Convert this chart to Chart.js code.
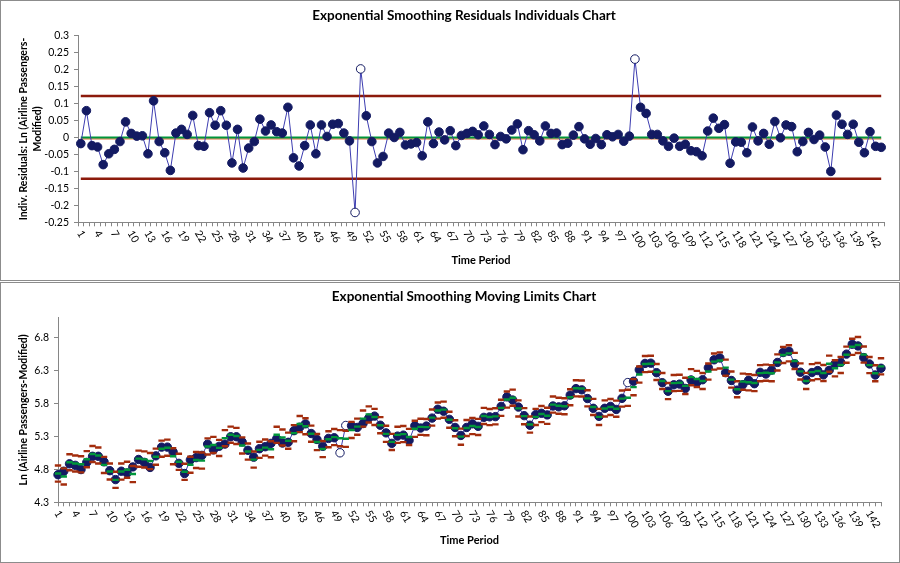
<!DOCTYPE html>
<html>
<head>
<meta charset="utf-8">
<script src="https://cdn.jsdelivr.net/npm/chart.js@4.4.1/dist/chart.umd.min.js"></script>
<style>
html, body { margin: 0; padding: 0; background: #ffffff; }
.frame { position: absolute; left: 0; width: 900px; height: 281px; box-sizing: border-box; border: 1px solid #8c8c8c; background: #ffffff; }
#f1 { top: 0; }
#f2 { top: 282px; }
canvas { display: block; }
</style>
</head>
<body>
<div class="frame" id="f1"><canvas id="c1" width="898" height="279" style="width:898px;height:279px"></canvas></div>
<div class="frame" id="f2"><canvas id="c2" width="898" height="279" style="width:898px;height:279px"></canvas></div>
<script>
// ---------------- DATA ----------------
// Residuals of the exponential smoothing model (top chart), periods 1..144
const residuals = [
  -0.018, 0.079, -0.024, -0.028, -0.080, -0.048, -0.035, -0.012, 0.046, 0.012, 0.004, 0.005,
  -0.048, 0.108, -0.012, -0.045, -0.097, 0.013, 0.024, 0.009, 0.065, -0.024, -0.026, 0.073,
  0.036, 0.079, 0.036, -0.075, 0.024, -0.090, -0.031, -0.012, 0.054, 0.019, 0.037, 0.017,
  0.013, 0.089, -0.060, -0.084, -0.024, 0.037, -0.048, 0.037, 0.003, 0.039, 0.041, 0.013,
  -0.010, -0.221, 0.202, 0.064, -0.012, -0.075, -0.056, 0.013, 0.000, 0.015, -0.022, -0.019,
  -0.015, -0.054, 0.046, -0.018, 0.016, -0.007, 0.020, -0.024, 0.006, 0.012, 0.018, 0.008,
  0.034, 0.009, -0.021, 0.003, -0.004, 0.022, 0.040, -0.036, 0.020, 0.008, -0.010, 0.034,
  0.012, 0.013, -0.021, -0.017, 0.007, 0.032, -0.004, -0.020, -0.003, -0.021, 0.008, 0.002,
  0.009, -0.011, 0.004, 0.231, 0.089, 0.071, 0.009, 0.009, -0.010, -0.026, -0.002, -0.026,
  -0.020, -0.039, -0.042, -0.054, 0.019, 0.057, 0.027, 0.038, -0.076, -0.013, -0.014, -0.045,
  0.031, -0.010, 0.012, -0.020, 0.047, -0.001, 0.037, 0.032, -0.042, -0.012, 0.015, -0.006,
  0.007, -0.028, -0.100, 0.066, 0.039, 0.009, 0.039, -0.014, -0.045, 0.017, -0.026, -0.029
];

// Ln (Airline Passengers-Modified) (bottom chart), periods 1..144
const lnValues = [
  4.718, 4.771, 4.883, 4.860, 4.796, 4.905, 4.997, 4.997, 4.913, 4.779, 4.644, 4.771,
  4.745, 4.836, 4.949, 4.905, 4.828, 5.004, 5.136, 5.136, 5.063, 4.890, 4.736, 4.942,
  4.977, 5.011, 5.182, 5.094, 5.148, 5.182, 5.293, 5.293, 5.215, 5.088, 4.984, 5.112,
  5.142, 5.193, 5.263, 5.198, 5.209, 5.385, 5.438, 5.489, 5.342, 5.252, 5.148, 5.268,
  5.278, 5.050, 5.464, 5.460, 5.434, 5.493, 5.576, 5.606, 5.468, 5.352, 5.193, 5.303,
  5.318, 5.236, 5.460, 5.425, 5.455, 5.576, 5.710, 5.680, 5.557, 5.434, 5.313, 5.434,
  5.489, 5.451, 5.587, 5.595, 5.598, 5.753, 5.897, 5.849, 5.743, 5.613, 5.468, 5.628,
  5.649, 5.624, 5.759, 5.746, 5.762, 5.924, 6.023, 6.004, 5.872, 5.724, 5.602, 5.724,
  5.753, 5.707, 5.875, 6.114, 6.134, 6.307, 6.404, 6.408, 6.264, 6.112, 5.983, 6.080,
  6.091, 6.025, 6.154, 6.115, 6.157, 6.338, 6.459, 6.487, 6.264, 6.146, 5.999, 6.083,
  6.149, 6.097, 6.269, 6.244, 6.303, 6.419, 6.569, 6.589, 6.400, 6.271, 6.154, 6.266,
  6.296, 6.231, 6.300, 6.396, 6.419, 6.545, 6.695, 6.669, 6.493, 6.396, 6.229, 6.331
];

// Control limits of the residuals chart
const upperLimit = 0.122;
const lowerLimit = -0.122;
const centerLine = 0;
const residualMean = -0.004;

// Axis tick labels
const residualTicks = [-0.25, -0.2, -0.15, -0.1, -0.05, 0, 0.05, 0.1, 0.15, 0.2, 0.25, 0.3];
const lnTicks = [4.3, 4.8, 5.3, 5.8, 6.3, 6.8];
const labelEvery = 3;

// Titles
const topTitle = 'Exponential Smoothing Residuals Individuals Chart';
const bottomTitle = 'Exponential Smoothing Moving Limits Chart';
const topYTitle = ['Indiv. Residuals: Ln (Airline Passengers-', 'Modified)'];
const bottomYTitle = 'Ln (Airline Passengers-Modified)';
const xTitle = 'Time Period';

// ---------------- DERIVED ----------------
const periods = residuals.map((_, i) => String(i + 1));
const forecast = lnValues.map((v, i) => v - residuals[i]);           // smoothed forecast = actual - residual
const movingUpper = forecast.map(f => f + upperLimit);
const movingLower = forecast.map(f => f + lowerLimit);
const constLine = v => residuals.map(() => v);
const isOut = i => residuals[i] > upperLimit || residuals[i] < lowerLimit;

// ---------------- STYLE ----------------
const FONT = 'Lato, "Open Sans", sans-serif';
const NAVY = '#131a62';
const LINE = '#3c3cb0';
const GREEN = '#00953b';
const DARKRED = '#8c1a0b';
const DASHRED = '#a32c0c';
const AXIS = '#868686';

Chart.defaults.font.family = FONT;
Chart.defaults.color = '#000';

const titlePlugin = {
  id: 'titleText',
  afterDraw(chart, args, opts) {
    const ctx = chart.ctx;
    ctx.save();
    ctx.font = 'bold 13.5px ' + FONT;
    ctx.fillStyle = '#000';
    ctx.textAlign = 'center';
    ctx.textBaseline = 'middle';
    ctx.fillText(opts.text, opts.x, opts.y);
    ctx.restore();
  }
};

const slantPlugin = {
  id: 'slantLabels',
  afterDraw(chart, args, opts) {
    const s = chart.scales.x;
    const ctx = chart.ctx;
    ctx.save();
    ctx.font = '10.5px ' + FONT;
    ctx.fillStyle = '#000';
    ctx.textAlign = 'left';
    ctx.textBaseline = 'middle';
    s.ticks.forEach((t, i) => {
      if (i % labelEvery !== 0) return;
      const x = s.getPixelForTick(i);
      ctx.save();
      ctx.translate(x - 1, s.top + opts.offset);
      ctx.rotate(opts.angle * Math.PI / 180);
      ctx.fillText(s.getLabelForValue(t.value), 0, 0);
      ctx.restore();
    });
    ctx.restore();
  }
};

function fmt(v, d) { return String(parseFloat(Number(v).toFixed(d))); }

// ---------------- TOP CHART ----------------
new Chart(document.getElementById('c1'), {
  type: 'line',
  data: {
    labels: periods,
    datasets: [
      {
        label: 'Residuals',
        data: residuals,
        borderColor: LINE,
        borderWidth: 1,
        pointRadius: 4.3,
        pointBorderWidth: 1,
        pointBorderColor: NAVY,
        pointBackgroundColor: c => isOut(c.dataIndex) ? '#ffffff' : NAVY,
        tension: 0,
        order: 1
      },
      { label: 'CL', data: constLine(centerLine), borderColor: GREEN, borderWidth: 2, pointRadius: 0, order: 2 },
      { label: 'Mean', data: constLine(residualMean), borderColor: '#e0703a', borderWidth: 1.2, pointRadius: 0, order: 3 },
      { label: 'UCL', data: constLine(upperLimit), borderColor: DARKRED, borderWidth: 2.5, pointRadius: 0, order: 4 },
      { label: 'LCL', data: constLine(lowerLimit), borderColor: DARKRED, borderWidth: 2.5, pointRadius: 0, order: 5 }
    ]
  },
  plugins: [titlePlugin, slantPlugin],
  options: {
    responsive: false,
    animation: false,
    events: [],
    layout: { padding: { top: 34.7, right: 15, bottom: 0, left: 0 } },
    plugins: {
      legend: { display: false },
      tooltip: { enabled: false },
      titleText: { text: topTitle, x: 463, y: 15 },
      slantLabels: { offset: 9, angle: 60 }
    },
    scales: {
      x: {
        type: 'category',
        offset: true,
        grid: { display: true, offset: true, drawOnChartArea: false, drawTicks: true, tickLength: 4, color: AXIS },
        border: { display: true, color: AXIS, width: 1 },
        ticks: { display: false, autoSkip: false },
        title: { display: true, text: xTitle, color: '#000', font: { size: 11, weight: 'bold', lineHeight: 1.2 }, padding: { top: 0, bottom: 12.5 } },
        afterFit: s => { s.height = 57.7; }
      },
      y: {
        min: -0.25,
        max: 0.3,
        afterBuildTicks: s => { s.ticks = residualTicks.map(v => ({ value: v })); },
        grid: { display: true, drawOnChartArea: false, drawTicks: true, tickLength: 4, color: AXIS },
        border: { display: true, color: AXIS, width: 1 },
        ticks: { callback: v => fmt(v, 2), font: { size: 10.5 }, color: '#000', padding: 5 },
        title: { display: true, text: topYTitle, color: '#000', font: { size: 10.5, weight: 'bold', lineHeight: 1.35 }, padding: { top: 15.2, bottom: 0 } },
        afterFit: s => { s.width = 77; }
      }
    }
  }
});

// ---------------- BOTTOM CHART ----------------
function dashSet(label, data, color) {
  return {
    label, data, showLine: false,
    pointStyle: 'line', pointRadius: 3.2,
    pointBorderColor: color, pointBorderWidth: 2.4, pointBackgroundColor: color,
    order: 1
  };
}

new Chart(document.getElementById('c2'), {
  type: 'line',
  data: {
    labels: periods,
    datasets: [
      dashSet('Forecast', forecast, GREEN),
      dashSet('Upper moving limit', movingUpper, DASHRED),
      dashSet('Lower moving limit', movingLower, DASHRED),
      {
        label: 'Ln (Airline Passengers-Modified)',
        data: lnValues,
        borderColor: LINE,
        borderWidth: 1,
        pointRadius: 4.2,
        pointBorderWidth: 1,
        pointBorderColor: NAVY,
        pointBackgroundColor: c => isOut(c.dataIndex) ? '#ffffff' : NAVY,
        tension: 0,
        order: 2
      }
    ]
  },
  plugins: [titlePlugin, slantPlugin],
  options: {
    responsive: false,
    animation: false,
    events: [],
    layout: { padding: { top: 34.5, right: 18, bottom: 0, left: 0 } },
    plugins: {
      legend: { display: false },
      tooltip: { enabled: false },
      titleText: { text: bottomTitle, x: 463, y: 14 },
      slantLabels: { offset: 9, angle: 60 }
    },
    scales: {
      x: {
        type: 'category',
        offset: false,
        grid: { display: true, offset: false, drawOnChartArea: false, drawTicks: true, tickLength: 4, color: AXIS },
        border: { display: true, color: AXIS, width: 1 },
        ticks: { display: false, autoSkip: false },
        title: { display: true, text: xTitle, color: '#000', font: { size: 11, weight: 'bold', lineHeight: 1.2 }, padding: { top: 0, bottom: 14.5 } },
        afterFit: s => { s.height = 59.7; }
      },
      y: {
        min: 4.3,
        max: 7.1,
        afterBuildTicks: s => { s.ticks = lnTicks.map(v => ({ value: v })); },
        grid: { display: true, drawOnChartArea: false, drawTicks: true, tickLength: 4, color: AXIS },
        border: { display: true, color: AXIS, width: 1 },
        ticks: { callback: v => fmt(v, 1), font: { size: 10.5 }, color: '#000', padding: 5 },
        title: { display: true, text: bottomYTitle, color: '#000', font: { size: 10.5, weight: 'bold', lineHeight: 1.35 }, padding: { top: 16, bottom: 0 } },
        afterFit: s => { s.width = 57; }
      }
    }
  }
});
</script>
</body>
</html>
